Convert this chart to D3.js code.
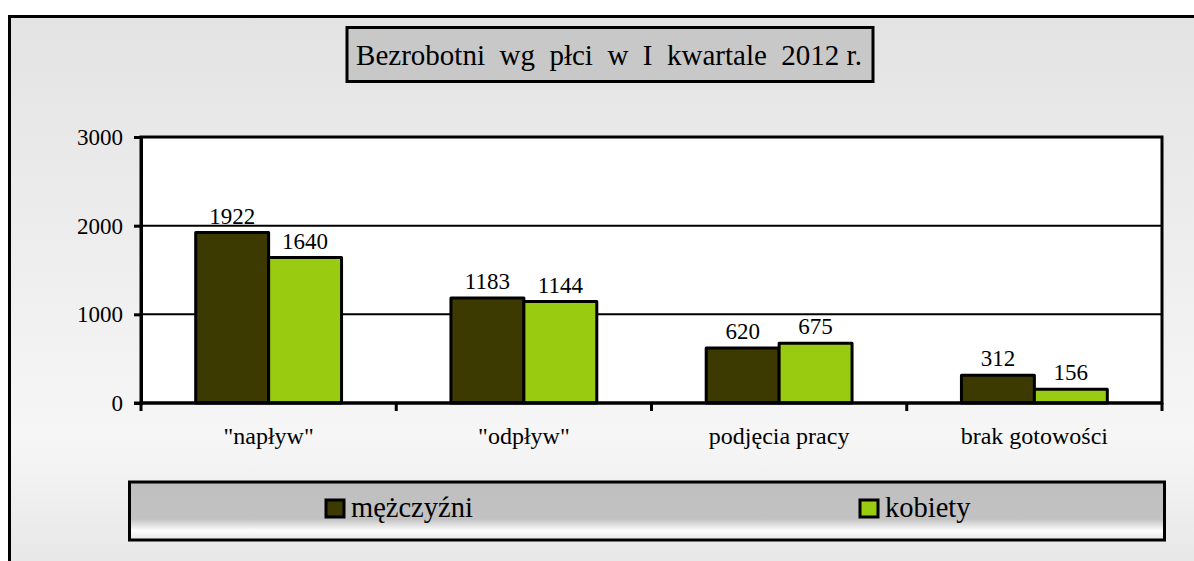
<!DOCTYPE html>
<html>
<head>
<meta charset="utf-8">
<script src="https://cdn.jsdelivr.net/npm/d3@7"></script>
<style>
  html, body { margin: 0; padding: 0; background: #ffffff; }
  svg { display: block; }
  svg text { font-family: "Liberation Serif", "Times New Roman", Times, "DejaVu Serif", serif !important; fill: #000; }
</style>
</head>
<body>
<script>
const title = "Bezrobotni  wg  płci  w  I  kwartale  2012 r.";
const categories = ["\"napływ\"", "\"odpływ\"", "podjęcia pracy", "brak gotowości"];
const seriesNames = ["mężczyźni", "kobiety"];
const men = [1922, 1183, 620, 312];
const women = [1640, 1144, 675, 156];
const yTicks = [0, 1000, 2000, 3000];
const colors = ["#3c3a00", "#99cc11"];

const FONT = "'Liberation Serif', 'Times New Roman', Times, 'DejaVu Serif', serif";
const W = 1194, H = 561;
const svg = d3.select("body").append("svg").attr("width", W).attr("height", H)
  .attr("font-family", FONT);
const defs = svg.append("defs");

const bg = defs.append("linearGradient").attr("id", "bgGrad").attr("x1", 0).attr("y1", 0).attr("x2", 0).attr("y2", 1);
bg.append("stop").attr("offset", "0%").attr("stop-color", "#e3e3e3");
bg.append("stop").attr("offset", "75%").attr("stop-color", "#f6f6f6");
bg.append("stop").attr("offset", "100%").attr("stop-color", "#e6e6e6");

const lg = defs.append("linearGradient").attr("id", "legGrad").attr("x1", 0).attr("y1", 0).attr("x2", 0).attr("y2", 1);
lg.append("stop").attr("offset", "0%").attr("stop-color", "#bfbfbf");
lg.append("stop").attr("offset", "64%").attr("stop-color", "#c2c2c2");
lg.append("stop").attr("offset", "84%").attr("stop-color", "#fdfdfd");
lg.append("stop").attr("offset", "100%").attr("stop-color", "#e4e4e4");

// outer frame (extends beyond the right/bottom edge)
svg.append("rect").attr("x", 9.5).attr("y", 16.5).attr("width", 1200).attr("height", 560)
  .attr("fill", "url(#bgGrad)").attr("stroke", "#000").attr("stroke-width", 3);

// plot area
const plot = { left: 141, right: 1162, top: 137, bottom: 403 };
const x0 = d3.scaleBand().domain(categories).range([plot.left, plot.right]).paddingInner(0).paddingOuter(0);
const x1 = d3.scaleBand().domain(seriesNames).range([0, x0.bandwidth()]).paddingInner(0).paddingOuter(0.75);
const y = d3.scaleLinear().domain([0, 3000]).range([plot.bottom, plot.top]);

svg.append("rect").attr("x", plot.left).attr("y", plot.top)
  .attr("width", plot.right - plot.left).attr("height", plot.bottom - plot.top)
  .attr("fill", "#ffffff");

// gridlines
svg.append("g").selectAll("line").data(yTicks.filter(d => d > 0 && d < 3000)).join("line")
  .attr("x1", plot.left).attr("x2", plot.right)
  .attr("y1", d => y(d)).attr("y2", d => y(d))
  .attr("stroke", "#000").attr("stroke-width", 2);

// bars
const data = categories.map((c, i) => ({ cat: c, vals: [men[i], women[i]] }));
const groups = svg.append("g").selectAll("g").data(data).join("g")
  .attr("transform", d => `translate(${x0(d.cat)},0)`);
groups.selectAll("rect").data(d => d.vals.map((v, j) => ({ v, s: seriesNames[j], j }))).join("rect")
  .attr("x", d => x1(d.s)).attr("width", x1.bandwidth())
  .attr("y", d => y(d.v)).attr("height", d => y(0) - y(d.v))
  .attr("fill", d => colors[d.j]).attr("stroke", "#000").attr("stroke-width", 3)
  .attr("stroke-linejoin", "round");

// data labels
groups.selectAll("text").data(d => d.vals.map((v, j) => ({ v, s: seriesNames[j], j }))).join("text")
  .attr("x", d => x1(d.s) + x1.bandwidth() / 2)
  .attr("y", d => y(d.v) - 9)
  .attr("text-anchor", "middle").attr("font-size", 23)
  .text(d => d.v);

// plot border
svg.append("rect").attr("x", plot.left).attr("y", plot.top)
  .attr("width", plot.right - plot.left).attr("height", plot.bottom - plot.top)
  .attr("fill", "none").attr("stroke", "#000").attr("stroke-width", 3);

// y axis
const yAxis = svg.append("g").attr("transform", `translate(${plot.left},0)`)
  .call(d3.axisLeft(y).tickValues(yTicks).tickSize(7).tickPadding(11).tickFormat(d3.format("d")));
yAxis.attr("font-family", FONT);
yAxis.select(".domain").attr("stroke", "#000").attr("stroke-width", 3);
yAxis.selectAll(".tick line").attr("stroke", "#000").attr("stroke-width", 3);
yAxis.selectAll(".tick text").attr("font-size", 23).attr("fill", "#000");

// x axis
const xAxis = svg.append("g").attr("transform", `translate(0,${plot.bottom})`)
  .call(d3.axisBottom(x0).tickSize(0).tickPadding(24));
xAxis.attr("font-family", FONT);
xAxis.select(".domain").remove();
xAxis.selectAll(".tick text").attr("font-size", 24).attr("fill", "#000");
const bounds = categories.map(c => x0(c)).concat([plot.right]);
svg.append("g").selectAll("line").data(bounds).join("line")
  .attr("x1", d => d).attr("x2", d => d)
  .attr("y1", plot.bottom).attr("y2", plot.bottom + 8)
  .attr("stroke", "#000").attr("stroke-width", 3);
svg.append("line").attr("x1", plot.left - 7).attr("x2", plot.right).attr("y1", plot.bottom).attr("y2", plot.bottom)
  .attr("stroke", "#000").attr("stroke-width", 3);

// title
svg.append("rect").attr("x", 347).attr("y", 27.5).attr("width", 526).attr("height", 54)
  .attr("fill", "#c8c8c8").attr("stroke", "#000").attr("stroke-width", 3);
svg.append("text").attr("x", 609).attr("y", 65).attr("text-anchor", "middle")
  .attr("font-size", 29).style("white-space", "pre").text(title);

// legend
svg.append("rect").attr("x", 129.5).attr("y", 482).attr("width", 1035).attr("height", 58)
  .attr("fill", "url(#legGrad)").attr("stroke", "#000").attr("stroke-width", 3);
const legX = [325, 859];
const leg = svg.append("g").selectAll("g").data(seriesNames).join("g")
  .attr("transform", (d, i) => `translate(${legX[i]},499)`);
leg.append("rect").attr("x", 1).attr("y", 1).attr("width", 18).attr("height", 17)
  .attr("fill", (d, i) => colors[i]).attr("stroke", "#000").attr("stroke-width", 3);
leg.append("text").attr("x", 26).attr("y", 18).attr("font-size", 28.5).text(d => d);
</script>
</body>
</html>
